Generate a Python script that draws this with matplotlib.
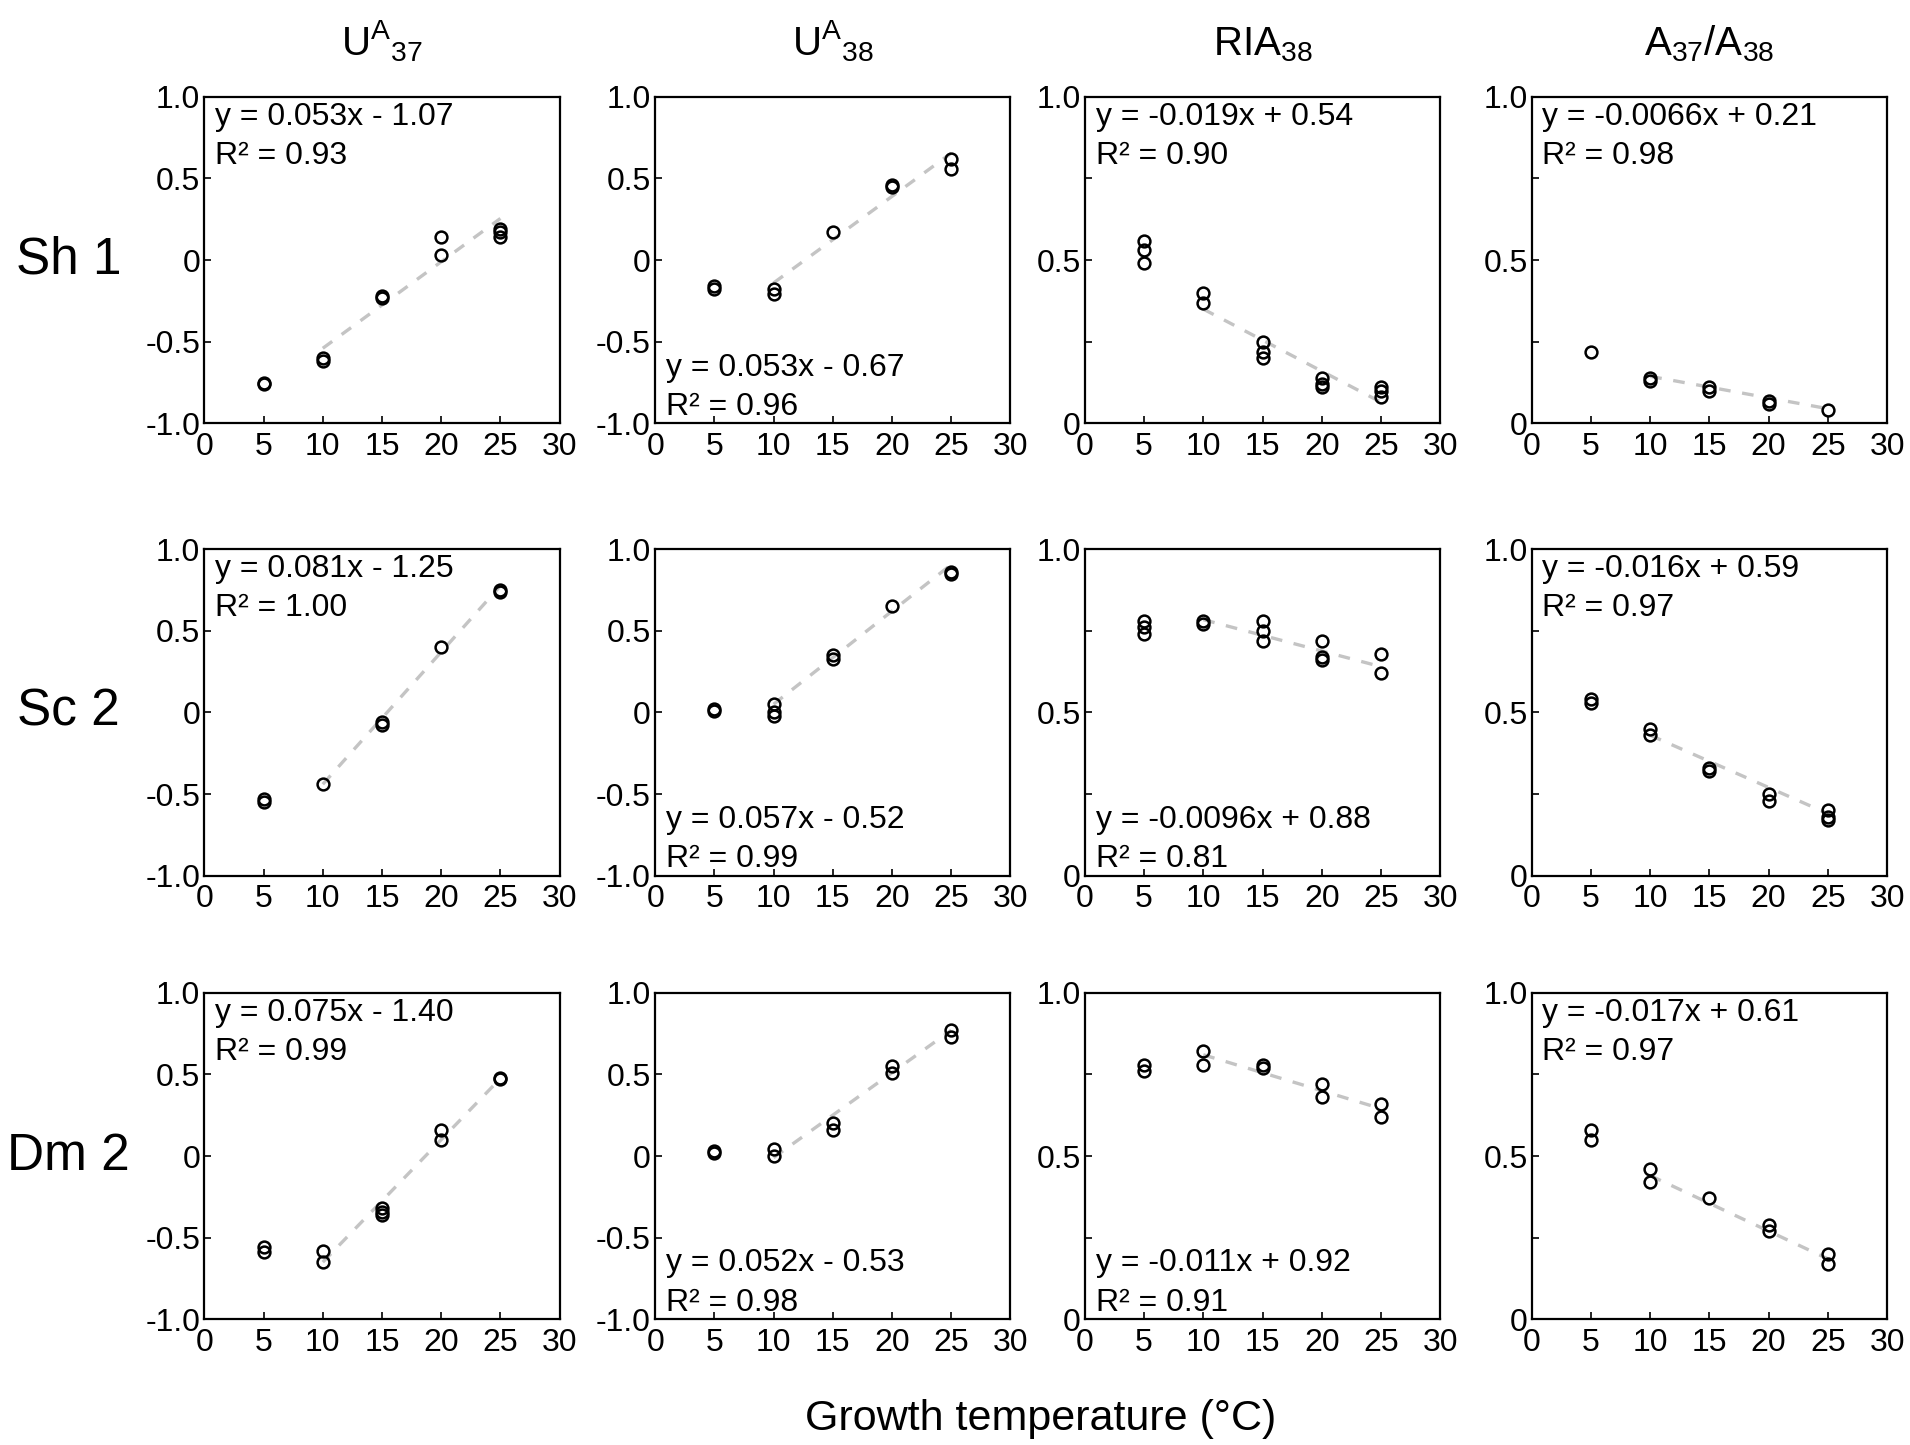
import numpy as np
import matplotlib.pyplot as plt

plt.rcParams['font.family'] = ['Liberation Sans', 'DejaVu Sans']
plt.rcParams['mathtext.fontset'] = 'custom'
plt.rcParams['mathtext.rm'] = 'Liberation Sans'
plt.rcParams['mathtext.it'] = 'Liberation Sans'

temps = [5, 10, 15, 20, 25]
col_titles = [r'U$^{\mathrm{A}}$$_{\mathrm{37}}$', r'U$^{\mathrm{A}}$$_{\mathrm{38}}$',
              r'RIA$_{\mathrm{38}}$', r'A$_{\mathrm{37}}$/A$_{\mathrm{38}}$']
row_labels = ['Sh 1', 'Sc 2', 'Dm 2']

# replicate values at each growth temperature
sh1_ua37 = [[-0.75, -0.76], [-0.60, -0.62], [-0.22, -0.23], [0.14, 0.03], [0.19, 0.14, 0.17]]
sh1_ua38 = [[-0.16, -0.18], [-0.18, -0.21], [0.17], [0.45, 0.46], [0.62, 0.56]]
sh1_ria38 = [[0.56, 0.53, 0.49], [0.40, 0.37], [0.25, 0.22, 0.20], [0.14, 0.12, 0.11], [0.11, 0.10, 0.08]]
sh1_a37a38 = [[0.22], [0.14, 0.13], [0.11, 0.10], [0.07, 0.06], [0.04]]

sc2_ua37 = [[-0.53, -0.55], [-0.44], [-0.06, -0.08], [0.40], [0.75, 0.74]]
sc2_ua38 = [[0.02, 0.01], [0.05, 0.0, -0.02], [0.35, 0.33], [0.65], [0.86, 0.85]]
sc2_ria38 = [[0.78, 0.76, 0.74], [0.78, 0.77], [0.78, 0.75, 0.72], [0.72, 0.67, 0.66], [0.68, 0.62]]
sc2_a37a38 = [[0.54, 0.53], [0.45, 0.43], [0.33, 0.32], [0.25, 0.23], [0.20, 0.18, 0.17]]

dm2_ua37 = [[-0.56, -0.59], [-0.58, -0.65], [-0.32, -0.36, -0.34], [0.16, 0.10], [0.48, 0.47]]
dm2_ua38 = [[0.03, 0.02], [0.04, 0.0], [0.20, 0.16], [0.55, 0.51], [0.77, 0.73]]
dm2_ria38 = [[0.78, 0.76], [0.82, 0.78], [0.78, 0.77], [0.72, 0.68], [0.66, 0.62]]
dm2_a37a38 = [[0.58, 0.55], [0.46, 0.42], [0.37], [0.29, 0.27], [0.20, 0.17]]

# regression (10-25 degC): slope, intercept, R2
sh1_fit = [(0.053, -1.07, 0.93), (0.053, -0.67, 0.96), (-0.019, 0.54, 0.90), (-0.0066, 0.21, 0.98)]
sc2_fit = [(0.081, -1.25, 1.00), (0.057, -0.52, 0.99), (-0.0096, 0.88, 0.81), (-0.016, 0.59, 0.97)]
dm2_fit = [(0.075, -1.40, 0.99), (0.052, -0.53, 0.98), (-0.011, 0.92, 0.91), (-0.017, 0.61, 0.97)]

# where the equation sits: 't' top-left, 'b' bottom-left
sh1_pos = ['t', 'b', 't', 't']
sc2_pos = ['t', 'b', 'b', 't']
dm2_pos = ['t', 'b', 'b', 't']

rows = [[sh1_ua37, sh1_ua38, sh1_ria38, sh1_a37a38],
        [sc2_ua37, sc2_ua38, sc2_ria38, sc2_a37a38],
        [dm2_ua37, dm2_ua38, dm2_ria38, dm2_a37a38]]
fits = [sh1_fit, sc2_fit, dm2_fit]
poss = [sh1_pos, sc2_pos, dm2_pos]

fig = plt.figure(figsize=(19.1, 14.45), dpi=100)

lefts = [0.107, 0.343, 0.568, 0.802]
bottoms = [0.707, 0.394, 0.087]
w, h = 0.186, 0.226

for r in range(3):
    for c in range(4):
        ax = fig.add_axes([lefts[c], bottoms[r], w, h])
        vals = rows[r][c]
        xs = [t for t, v in zip(temps, vals) for _ in v]
        ys = [y for v in vals for y in v]
        slope, icpt, r2 = fits[r][c]
        xl = np.array([10, 25])
        ax.plot(xl, slope * xl + icpt, '--', color='#c4c4c4', lw=2.4, dashes=(3.5, 3.5), zorder=1)
        ax.plot(xs, ys, 'o', mfc='none', mec='black', ms=8.5, mew=1.8, zorder=2)
        ax.set_xlim(0, 30)
        ax.set_xticks([0, 5, 10, 15, 20, 25, 30])
        if c < 2:
            ax.set_ylim(-1, 1)
            ax.set_yticks([-1, -0.5, 0, 0.5, 1])
            ax.set_yticklabels(['-1.0', '-0.5', '0', '0.5', '1.0'])
        else:
            ax.set_ylim(0, 1)
            ax.set_yticks([0, 0.5, 1])
            ax.set_yticklabels(['0', '0.5', '1.0'])
            ax.set_yticks([0.25, 0.75], minor=True)
        ax.tick_params(direction='in', length=5, width=1.2, labelsize=23, pad=3)
        ax.tick_params(which='minor', direction='in', length=5, width=1.2)
        ax.tick_params(axis='x', pad=6)
        for s in ax.spines.values():
            s.set_linewidth(1.6)
        sign = '-' if icpt < 0 else '+'
        sl = f'{slope:.4f}'.rstrip('0') if abs(slope) < 0.01 else f'{slope:.3f}'
        eq = f'y = {sl}x {sign} {abs(icpt):.2f}\nR² = {r2:.2f}'
        if poss[r][c] == 't':
            ax.text(0.03, 0.985, eq, transform=ax.transAxes, ha='left', va='top',
                    fontsize=23, linespacing=1.4)
        else:
            ax.text(0.03, 0.005, eq, transform=ax.transAxes, ha='left', va='bottom',
                    fontsize=23, linespacing=1.4)
        if r == 0:
            ax.set_title(col_titles[c], fontsize=29, pad=30)
        if c == 0:
            fig.text(0.036, bottoms[r] + h / 2, row_labels[r], fontsize=37,
                     ha='center', va='center')

fig.text(0.545, 0.018, 'Growth temperature (°C)', fontsize=31, ha='center', va='center')

fig.savefig('out.png', dpi=100)
